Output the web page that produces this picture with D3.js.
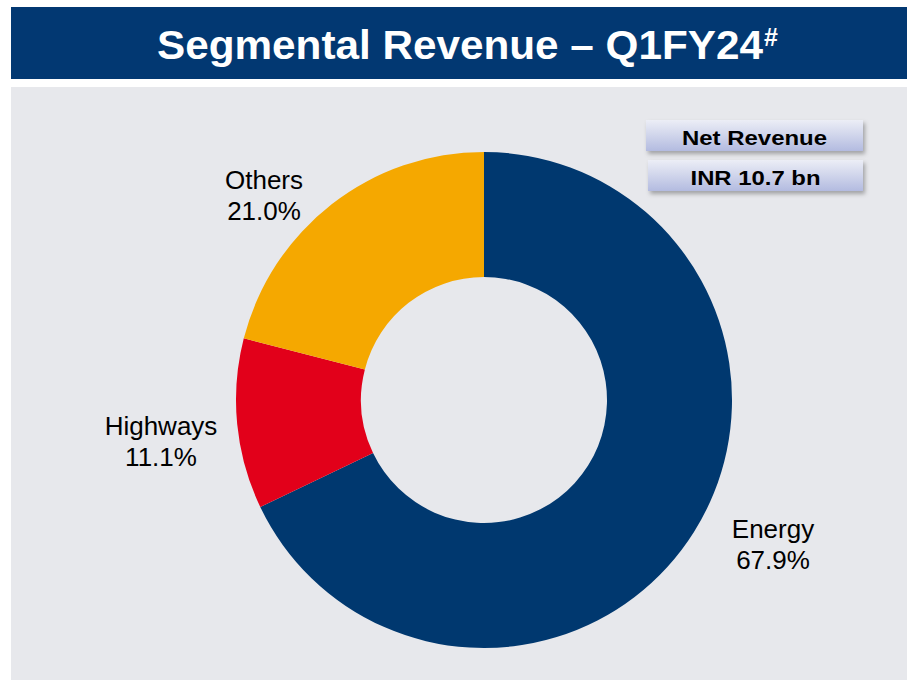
<!DOCTYPE html>
<html>
<head>
    <title>Segmental Revenue – Q1FY24</title>
    <script src="https://d3js.org/d3.v7.min.js"></script>
    <style>
        body { margin: 0; background: #fff; }
        svg { display: block; font-family: "Liberation Sans", Arial, sans-serif; }
    </style>
</head>
<body>
    <div id="chart"></div>

    <script>
        // data
        const segments = ["Energy", "Highways", "Others"];
        const shares = [67.9, 11.1, 21.0];
        const colors = ["#00386f", "#e2001a", "#f5a800"];
        const boxLabels = ["Net Revenue", "INR 10.7 bn"];

        const width = 907, height = 680;
        const cx = 484, cy = 400;
        const outerR = 248, innerR = 123;

        // where the slide puts each label (offset from the donut centre)
        const labelPos = [[289, 138], [-323, 35], [-220, -211]];
        const boxTextWidth = [145, 130];

        const svg = d3.select("#chart").append("svg")
            .attr("width", width)
            .attr("height", height);

        const defs = svg.append("defs");
        const grad = defs.append("linearGradient")
            .attr("id", "boxGrad")
            .attr("x1", 0).attr("y1", 0).attr("x2", 0).attr("y2", 1);
        grad.append("stop").attr("offset", "0%").attr("stop-color", "#eceef6");
        grad.append("stop").attr("offset", "100%").attr("stop-color", "#b3bbe0");

        const shadow = defs.append("filter")
            .attr("id", "shadow")
            .attr("x", "-10%").attr("y", "-30%")
            .attr("width", "125%").attr("height", "180%");
        shadow.append("feDropShadow")
            .attr("dx", 2).attr("dy", 3)
            .attr("stdDeviation", 2)
            .attr("flood-color", "#000")
            .attr("flood-opacity", 0.3);

        // title bar
        svg.append("rect")
            .attr("x", 11).attr("y", 7)
            .attr("width", width - 11).attr("height", 72)
            .attr("fill", "#023872");

        const title = svg.append("text")
            .attr("x", 157).attr("y", 59)
            .attr("fill", "#fff")
            .attr("font-weight", "bold")
            .attr("font-size", 40);
        title.append("tspan")
            .attr("textLength", 606)
            .attr("lengthAdjust", "spacingAndGlyphs")
            .text("Segmental Revenue – Q1FY24");
        title.append("tspan")
            .attr("font-size", 25)
            .attr("dx", 1)
            .attr("dy", -13)
            .text("#");

        // grey panel
        svg.append("rect")
            .attr("x", 11).attr("y", 87)
            .attr("width", width - 11).attr("height", height - 87)
            .attr("fill", "#e7e8ec");

        // donut
        const pie = d3.pie().sort(null).value(d => d);
        const arc = d3.arc().innerRadius(innerR).outerRadius(outerR);

        const g = svg.append("g")
            .attr("transform", "translate(" + cx + "," + cy + ")");

        g.selectAll("path")
            .data(pie(shares))
            .join("path")
              .attr("d", arc)
              .attr("fill", (d, i) => colors[i]);

        const labels = g.selectAll(".label")
            .data(segments)
            .join("text")
              .attr("class", "label")
              .attr("text-anchor", "middle")
              .attr("font-size", 26)
              .attr("fill", "#000")
              .attr("transform", (d, i) => "translate(" + labelPos[i][0] + "," + labelPos[i][1] + ")");

        labels.append("tspan")
            .attr("x", 0).attr("y", 0)
            .text(d => d);
        labels.append("tspan")
            .attr("x", 0).attr("y", 31)
            .text((d, i) => shares[i].toFixed(1) + "%");

        // net revenue boxes
        const boxes = svg.selectAll(".box")
            .data(boxLabels)
            .join("g")
              .attr("class", "box")
              .attr("transform", (d, i) => "translate(" + (646 + i * 2) + "," + (120 + i * 40) + ")");

        boxes.append("rect")
            .attr("width", (d, i) => 217 - i * 2)
            .attr("height", 31)
            .attr("fill", "url(#boxGrad)")
            .attr("filter", "url(#shadow)");

        boxes.append("text")
            .attr("x", (d, i) => (217 - i * 2) / 2)
            .attr("y", 25)
            .attr("text-anchor", "middle")
            .attr("font-weight", "bold")
            .attr("font-size", 21)
            .attr("textLength", (d, i) => boxTextWidth[i])
            .attr("lengthAdjust", "spacingAndGlyphs")
            .attr("fill", "#000")
            .text(d => d);
    </script>
</body>
</html>
